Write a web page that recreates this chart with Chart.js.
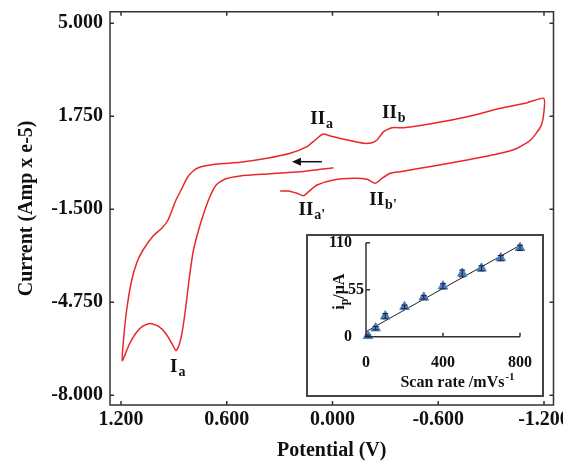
<!DOCTYPE html>
<html>
<head>
<meta charset="utf-8">
<script src="https://cdn.jsdelivr.net/npm/chart.js@4"></script>
<style>
  body { margin: 0; background: #fff; }
  #wrap { position: relative; width: 563px; height: 463px; }
  #grafico { position: absolute; left: 0; top: 0; }
  #caixa { position: absolute; left: 306px; top: 234px; width: 234px; height: 159px;
           border: 2px solid #444; background: #fff; }
  #inset { position: absolute; left: 0; top: 0; }
</style>
</head>
<body>
<div id="wrap">
  <canvas id="grafico" width="563" height="463"></canvas>
  <div id="caixa"><canvas id="inset" width="234" height="159"></canvas></div>
</div>
<script>
// voltamograma (potencial em V, corrente em Amp x e-5)
const potencial = [-0.005, 0.183, 0.372, 0.524, 0.609, 0.660, 0.694, 0.728, 0.763, 0.791,
  0.814, 0.831, 0.851, 0.870, 0.888, 0.910, 0.944, 0.990, 1.035, 1.075, 1.115, 1.155, 1.193,
  1.186, 1.168, 1.139, 1.109, 1.075, 1.018, 0.967, 0.933, 0.910, 0.888, 0.859, 0.825, 0.791,
  0.751, 0.656, 0.524, 0.372, 0.240, 0.145, 0.098, 0.054, 0.0125, -0.082, -0.177, -0.224,
  -0.253, -0.290, -0.338, -0.404, -0.574, -0.764, -0.953, -1.105, -1.199, -1.199, -1.181,
  -1.124, -1.048, -0.953, -0.764, -0.574, -0.385, -0.328, -0.281, -0.243, -0.196, -0.120,
  -0.006, 0.088, 0.136, 0.164, 0.202, 0.249, 0.297];
const corrente = [-0.046, -0.186, -0.266, -0.336, -0.441, -0.651, -1.035, -1.594, -2.293, -2.992,
  -3.971, -4.845, -5.718, -6.242, -6.441, -6.207, -5.858, -5.578, -5.491, -5.578, -5.823, -6.242, -6.791,
  -6.068, -5.019, -3.971, -3.342, -2.922, -2.433, -2.154, -1.874, -1.525, -1.175, -0.826, -0.406, -0.162,
  -0.022, 0.083, 0.142, 0.282, 0.457, 0.688, 0.922, 1.131, 1.062, 0.922, 0.806, 0.827,
  0.922, 1.212, 1.352, 1.352, 1.505, 1.736, 2.030, 2.225, 2.379, 1.855, 1.387,
  0.922, 0.632, 0.457, 0.223, 0.013, -0.186, -0.242, -0.417, -0.591, -0.452, -0.417,
  -0.476, -0.651, -0.885, -1.025, -0.941, -0.861, -0.861];
const ticksPotencial = [1.2, 0.6, 0, -0.6, -1.2];
const ticksCorrente = [5, 1.75, -1.5, -4.75, -8];

// inset: corrente de pico x velocidade de varredura
const taxaVarredura = [10, 50, 100, 200, 300, 400, 500, 600, 700, 800];
const ip = [1, 10, 24, 35, 46, 59, 74, 80, 92, 104];
const erroIp = [1, 2, 3, 2, 2, 3, 4, 3, 3, 3];
const ajusteX = [0, 800];
const ajusteY = [6, 107];
const ticksTaxa = [0, 400, 800];
const ticksIp = [0, 55, 110];

const serif = "'Liberation Serif', 'DejaVu Serif', serif";

// tira o espaço extra que o Chart.js reserva para os rótulos das pontas
const semFolga = s => { s.paddingLeft = 0; s.paddingRight = 0; s.paddingTop = 0; s.paddingBottom = 0; };

// moldura e marcas de escala para dentro
const moldura = {
  id: 'moldura',
  afterDraw(chart, args, opts) {
    const {ctx, chartArea: a, scales: {x, y}} = chart;
    const L = 4;
    ctx.save();
    ctx.strokeStyle = '#333';
    ctx.lineWidth = 1.5;
    ctx.beginPath();
    if (opts.caixa) {
      ctx.rect(a.left, a.top, a.right - a.left, a.bottom - a.top);
    } else {
      ctx.moveTo(a.left, a.top); ctx.lineTo(a.left, a.bottom); ctx.lineTo(a.right, a.bottom);
    }
    x.ticks.forEach(t => {
      const px = x.getPixelForValue(t.value);
      ctx.moveTo(px, a.bottom); ctx.lineTo(px, a.bottom - L);
      if (opts.caixa) { ctx.moveTo(px, a.top); ctx.lineTo(px, a.top + L); }
    });
    y.ticks.forEach(t => {
      const py = y.getPixelForValue(t.value);
      ctx.moveTo(a.left, py); ctx.lineTo(a.left + L, py);
      if (opts.caixa) { ctx.moveTo(a.right, py); ctx.lineTo(a.right - L, py); }
    });
    ctx.stroke();
    ctx.restore();
  }
};

// rótulos dos picos e seta
const rotulos = {
  id: 'rotulos',
  afterDatasetsDraw(chart) {
    const {ctx, scales: {x, y}} = chart;
    const picos = [
      ['II', 'a', 0.126, 1.481], ['II', 'b', -0.281, 1.68],
      ['II', "a'", 0.193, -1.699], ['II', "b'", -0.209, -1.35],
      ['I', 'a', 0.922, -7.175]
    ];
    ctx.save();
    ctx.fillStyle = '#111';
    ctx.textBaseline = 'alphabetic';
    picos.forEach(([t, s, vx, vy]) => {
      const px = x.getPixelForValue(vx), py = y.getPixelForValue(vy);
      ctx.font = 'bold 19px ' + serif;
      ctx.fillText(t, px, py);
      const w = ctx.measureText(t).width;
      ctx.font = 'bold 14px ' + serif;
      ctx.fillText(s, px + w + 1, py + 4);
    });
    const x1 = x.getPixelForValue(0.06), x2 = x.getPixelForValue(0.23), ay = y.getPixelForValue(0.163);
    ctx.strokeStyle = '#111';
    ctx.lineWidth = 1.5;
    ctx.beginPath(); ctx.moveTo(x1, ay); ctx.lineTo(x2 + 6, ay); ctx.stroke();
    ctx.beginPath(); ctx.moveTo(x2, ay); ctx.lineTo(x2 + 9, ay - 4); ctx.lineTo(x2 + 9, ay + 4); ctx.closePath(); ctx.fill();
    ctx.restore();
  }
};

new Chart(document.getElementById('grafico'), {
  type: 'scatter',
  data: {
    datasets: [{
      data: potencial.map((v, i) => ({x: v, y: corrente[i]})),
      showLine: true,
      borderColor: '#e8282b',
      borderWidth: 1.5,
      pointRadius: 0,
      tension: 0.2,
      fill: false
    }]
  },
  options: {
    responsive: false,
    animation: false,
    layout: {padding: {top: 11.7, right: 9.5, left: 0, bottom: 0}},
    plugins: {legend: {display: false}, tooltip: {enabled: false}, moldura: {caixa: true}},
    scales: {
      x: {
        type: 'linear', reverse: true, min: -1.254, max: 1.2625,
        afterBuildTicks: s => { s.ticks = ticksPotencial.map(v => ({value: v})); },
        afterFit: s => { s.height = 58; semFolga(s); },
        grid: {display: false, drawTicks: false, tickLength: 0}, border: {display: false},
        ticks: {callback: v => v.toFixed(3), color: '#111', padding: 3, maxRotation: 0,
                font: {family: serif, size: 20, weight: 'bold'}},
        title: {display: true, text: 'Potential (V)', color: '#111', padding: {top: 1, bottom: 0},
                font: {family: serif, size: 20, weight: 'bold'}}
      },
      y: {
        min: -8.339, max: 5.405,
        afterBuildTicks: s => { s.ticks = ticksCorrente.map(v => ({value: v})); },
        afterFit: s => { s.width = 110; semFolga(s); },
        grid: {display: false, drawTicks: false, tickLength: 0}, border: {display: false},
        ticks: {callback: v => v.toFixed(3), color: '#111', padding: 7,
                font: {family: serif, size: 20, weight: 'bold'}},
        title: {display: true, text: 'Current (Amp x e-5)', color: '#111', padding: {top: 15, bottom: 0},
                font: {family: serif, size: 20, weight: 'bold'}}
      }
    }
  },
  plugins: [moldura, rotulos]
});

// textos do inset (títulos com sub/sobrescrito, rótulos do eixo y) e barras de erro
const textosInset = {
  id: 'textosInset',
  afterDraw(chart) {
    const {ctx, chartArea: a, scales: {x, y}} = chart;
    ctx.save();
    ctx.fillStyle = '#111';
    ctx.strokeStyle = '#223';
    ctx.lineWidth = 1;
    taxaVarredura.forEach((v, i) => {
      const px = x.getPixelForValue(v);
      const p1 = y.getPixelForValue(ip[i] - erroIp[i]), p2 = y.getPixelForValue(ip[i] + erroIp[i]);
      ctx.beginPath();
      ctx.moveTo(px, p1); ctx.lineTo(px, p2);
      ctx.moveTo(px - 3, p1); ctx.lineTo(px + 3, p1);
      ctx.moveTo(px - 3, p2); ctx.lineTo(px + 3, p2);
      ctx.stroke();
    });
    ctx.font = 'bold 16px ' + serif;
    ctx.textAlign = 'right';
    ctx.textBaseline = 'middle';
    ticksIp.forEach(v => {
      ctx.fillText(String(v), a.left - (v === 55 ? 2 : 14), y.getPixelForValue(v));
    });
    ctx.textAlign = 'left';
    ctx.textBaseline = 'alphabetic';
    // título x
    const t1 = 'Scan rate /mVs', t2 = '-1';
    ctx.font = 'bold 16px ' + serif;
    const w1 = ctx.measureText(t1).width;
    ctx.font = 'bold 11px ' + serif;
    const w2 = ctx.measureText(t2).width;
    let sx = 149.5 - (w1 + w2 + 1) / 2;
    ctx.font = 'bold 16px ' + serif;
    ctx.fillText(t1, sx, 151);
    ctx.font = 'bold 11px ' + serif;
    ctx.fillText(t2, sx + w1 + 1, 144);
    // título y
    ctx.translate(31, 55.7);
    ctx.rotate(-Math.PI / 2);
    ctx.font = 'bold 16px ' + serif;
    const wi = ctx.measureText('i').width, wr = ctx.measureText('/\u03bcA').width;
    ctx.font = 'bold 12px ' + serif;
    const wp = ctx.measureText('p').width;
    let sy = -(wi + wp + wr) / 2;
    ctx.font = 'bold 16px ' + serif;
    ctx.fillText('i', sy, 5);
    ctx.font = 'bold 12px ' + serif;
    ctx.fillText('p', sy + wi, 9);
    ctx.font = 'bold 16px ' + serif;
    ctx.fillText('/\u03bcA', sy + wi + wp, 5);
    ctx.restore();
  }
};

new Chart(document.getElementById('inset'), {
  type: 'scatter',
  data: {
    datasets: [{
      type: 'line',
      data: ajusteX.map((v, i) => ({x: v, y: ajusteY[i]})),
      borderColor: '#222',
      borderWidth: 1,
      pointRadius: 0,
      clip: false,
      order: 2
    }, {
      data: taxaVarredura.map((v, i) => ({x: v, y: ip[i]})),
      pointStyle: 'triangle',
      pointRadius: 5.5,
      backgroundColor: '#4a7ebf',
      borderColor: '#4a7ebf',
      clip: false,
      order: 1
    }]
  },
  options: {
    responsive: false,
    animation: false,
    layout: {padding: {top: 6.7, right: 22, left: 0, bottom: 0}},
    plugins: {legend: {display: false}, tooltip: {enabled: false}, moldura: {caixa: false}},
    scales: {
      x: {
        type: 'linear', min: 0, max: 800,
        afterBuildTicks: s => { s.ticks = ticksTaxa.map(v => ({value: v})); },
        afterFit: s => { s.height = 58.3; semFolga(s); },
        grid: {display: false, drawTicks: false, tickLength: 0}, border: {display: false},
        ticks: {color: '#111', padding: 17, maxRotation: 0, font: {family: serif, size: 16, weight: 'bold'}}
      },
      y: {
        min: 0, max: 110,
        afterBuildTicks: s => { s.ticks = ticksIp.map(v => ({value: v})); },
        afterFit: s => { s.width = 58; semFolga(s); },
        grid: {display: false}, border: {display: false},
        ticks: {display: false}
      }
    }
  },
  plugins: [moldura, textosInset]
});
</script>
</body>
</html>
